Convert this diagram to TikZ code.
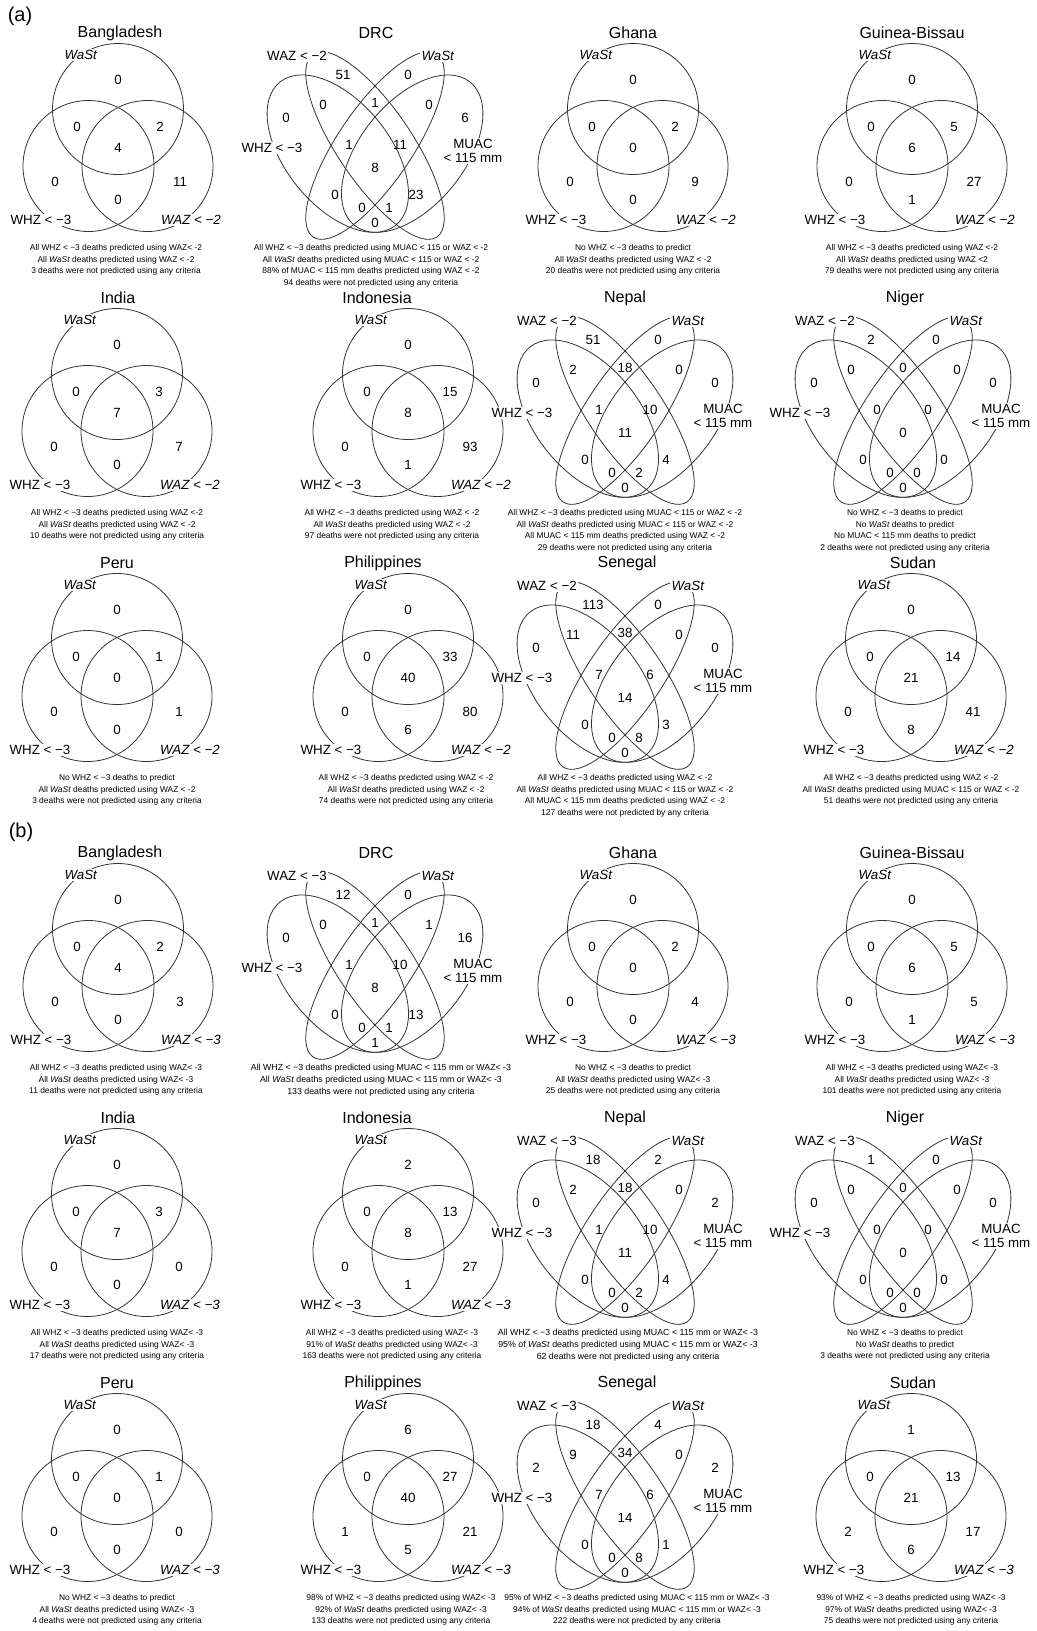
\documentclass[tikz,border=0pt]{standalone}
\usepackage{fontspec}
\setmainfont{Liberation Sans}
\usepackage{tikz}

% three-circle diagram: #1 centre, #2 counts (top, top-left, top-right, middle, left, right, bottom), #3 WAZ cut-off
\newcommand{\threevenn}[3]{%
  \begin{scope}[shift={#1}]
    \draw[vline] (0,-38) circle[radius=65.5];
    \draw[vline] (-29.5,19) circle[radius=65.5];
    \draw[vline] (29.5,19) circle[radius=65.5];
    \foreach \p [count=\i from 0] in {(0,-67),(-41,-20),(42,-20),(0,1),(-63,35),(62,35),(0,53)}{
      \pgfmathtruncatemacro\cnt{{#2}[\i]}
      \node[num] at \p {\cnt};
    }
    \node[setlabel] at (-37,-92) {\textit{WaSt}};
    \node[setlabel] at (-77,73) {WHZ < −3};
    \node[setlabel] at (73,73) {\textit{WAZ < −#3}};
  \end{scope}}

% four-ellipse diagram: #1 centre, #2 fifteen counts, #3 WAZ cut-off
\newcommand{\fourvenn}[3]{%
  \begin{scope}[shift={#1}]
    % outer sets: WHZ and MUAC (y axis points down, so the turns change sign)
    \begin{scope}[xscale=248, yscale=-276]
      \draw[vline, rotate around={-135:(-0.15,0.052)}] (-0.15,0.052) ellipse [x radius=0.35, y radius=0.2];
      \draw[vline, rotate around={-45:(0.15,0.052)}] (0.15,0.052) ellipse [x radius=0.35, y radius=0.2];
    \end{scope}
    % inner sets: WAZ and WaSt
    \draw[vline, rotate around={124.1:(0,-22.5)}] (0,-22.5) ellipse [x radius=110.5, y radius=37.3];
    \draw[vline, rotate around={55.9:(0,-22.5)}] (0,-22.5) ellipse [x radius=110.5, y radius=37.3];
    \foreach \p [count=\i from 0] in {(-32,-93),(33,-93),(-52,-63),(0,-65),(54,-63),(-89,-50),(90,-50),
        (-26,-23),(25,-23),(0,0),(-40,27),(41,27),(-13,40),(14,40),(0,55)}{
      \pgfmathtruncatemacro\cnt{{#2}[\i]}
      \node[num] at \p {\cnt};
    }
    \node[setlabel] at (-78,-112) {WAZ < −#3};
    \node[setlabel] at (63,-112) {\textit{WaSt}};
    \node[setlabel] at (-103,-20) {WHZ < −3};
    \node[muac] at (98,-17) {MUAC\\< 115 mm};
  \end{scope}}

\begin{document}
\begin{tikzpicture}[
  x=0.75pt, y=-0.75pt,
  vline/.style={line width=0.6pt, black!80},
  num/.style={font=\fontsize{10}{12}\selectfont, inner sep=0pt},
  setlabel/.style={font=\fontsize{10}{12}\selectfont, fill=white, inner sep=1pt},
  muac/.style={setlabel, align=center, font=\fontsize{10}{10}\selectfont},
  title/.style={font=\fontsize{12}{14}\selectfont},
  caption/.style={font=\fontsize{6.3}{8.8}\selectfont, align=center, anchor=north, inner sep=0pt},
  widecaption/.style={caption, font=\fontsize{6.6}{8.8}\selectfont},
  panel/.style={font=\fontsize{15}{18}\selectfont},
]
\useasboundingbox (0,0) rectangle (1036,1631);

% (a) row 1
\node[panel] (pa) at (20,16) {(a)};
\node[title] (tBGDa) at (120,33) {Bangladesh};
\threevenn{(118,147)}{0,0,2,4,0,11,0}{2}
\node[caption] (cBGDa) at (116,244) {All WHZ < −3 deaths predicted using WAZ< -2\\All \textit{WaSt} deaths predicted using WAZ < -2\\3 deaths were not predicted using any criteria};

\node[title] (tDRCa) at (376,33) {DRC};
\fourvenn{(375,168)}{51,0,0,1,0,0,6,1,11,8,0,23,0,1,0}{2}
\node[caption] (cDRCa) at (371,244) {All WHZ < −3 deaths predicted using MUAC < 115 or WAZ < -2\\All \textit{WaSt} deaths predicted using MUAC < 115 or WAZ < -2\\88\% of MUAC < 115 mm deaths predicted using WAZ < -2\\94 deaths were not predicted using any criteria};

\node[title] (tGHAa) at (633,33) {Ghana};
\threevenn{(633,147)}{0,0,2,0,0,9,0}{2}
\node[caption] (cGHAa) at (633,244) {No WHZ < −3 deaths to predict\\All \textit{WaSt} deaths predicted using WAZ < -2\\20 deaths were not predicted using any criteria};

\node[title] (tGNBa) at (912,33) {Guinea-Bissau};
\threevenn{(912,147)}{0,0,5,6,0,27,1}{2}
\node[caption] (cGNBa) at (912,244) {All WHZ < −3 deaths predicted using WAZ <-2\\All \textit{WaSt} deaths predicted using WAZ <2\\79 deaths were not predicted using any criteria};

% (a) row 2
\node[title] (tINDa) at (118,298) {India};
\threevenn{(117,412)}{0,0,3,7,0,7,0}{2}
\node[caption] (cINDa) at (117,509) {All WHZ < −3 deaths predicted using WAZ  <-2\\All \textit{WaSt} deaths predicted using WAZ < -2\\10 deaths were not predicted using any criteria};

\node[title] (tIDNa) at (377,298) {Indonesia};
\threevenn{(408,412)}{0,0,15,8,0,93,1}{2}
\node[caption] (cIDNa) at (392,509) {All WHZ < −3 deaths predicted using WAZ < -2\\All \textit{WaSt} deaths predicted using WAZ < -2\\97 deaths were not predicted using any criteria};

\node[title] (tNPLa) at (625,298) {Nepal};
\fourvenn{(625,433)}{51,0,2,18,0,0,0,1,10,11,0,4,0,2,0}{2}
\node[caption] (cNPLa) at (625,509) {All WHZ < −3 deaths predicted using  MUAC < 115 or WAZ < -2\\All \textit{WaSt} deaths predicted using  MUAC < 115 or  WAZ < -2\\All MUAC < 115 mm deaths predicted using WAZ < -2\\29 deaths were not predicted using any criteria};

\node[title] (tNERa) at (905,298) {Niger};
\fourvenn{(903,433)}{2,0,0,0,0,0,0,0,0,0,0,0,0,0,0}{2}
\node[caption] (cNERa) at (905,509) {No WHZ < −3 deaths to predict\\No \textit{WaSt} deaths to predict\\No MUAC < 115 mm deaths to predict\\2 deaths were not predicted using any criteria};

% (a) row 3
\node[title] (tPERa) at (117,563) {Peru};
\threevenn{(117,677)}{0,0,1,0,0,1,0}{2}
\node[caption] (cPERa) at (117,774) {No WHZ < −3 deaths to predict\\All \textit{WaSt} deaths predicted using WAZ  < -2\\3 deaths were not predicted using any criteria};

\node[title] (tPHLa) at (383,563) {Philippines};
\threevenn{(408,677)}{0,0,33,40,0,80,6}{2}
\node[caption] (cPHLa) at (406,774) {All WHZ < −3 deaths predicted using WAZ  < -2\\All \textit{WaSt} deaths predicted using WAZ  < -2\\74 deaths were not predicted using any criteria};

\node[title] (tSENa) at (627,563) {Senegal};
\fourvenn{(625,698)}{113,0,11,38,0,0,0,7,6,14,0,3,0,8,0}{2}
\node[caption] (cSENa) at (625,774) {All WHZ < −3 deaths predicted using WAZ  < -2\\All \textit{WaSt} deaths predicted using MUAC < 115 or WAZ  < -2\\All MUAC < 115 mm deaths predicted using WAZ < -2\\127 deaths were not predicted by any criteria};

\node[title] (tSDNa) at (913,563) {Sudan};
\threevenn{(911,677)}{0,0,14,21,0,41,8}{2}
\node[caption] (cSDNa) at (911,774) {All WHZ < −3 deaths predicted using  WAZ  < -2\\All \textit{WaSt} deaths predicted using  MUAC < 115 or WAZ  < -2\\51 deaths were not predicted using any criteria};

% (b) row 1
\node[panel] (pb) at (21,832) {(b)};
\node[title] (tBGDb) at (120,853) {Bangladesh};
\threevenn{(118,967)}{0,0,2,4,0,3,0}{3}
\node[caption] (cBGDb) at (116,1064) {All WHZ < −3 deaths predicted using WAZ< -3\\All \textit{WaSt} deaths predicted using WAZ< -3\\11 deaths were not predicted using any criteria};

\node[title] (tDRCb) at (376,853) {DRC};
\fourvenn{(375,988)}{12,0,0,1,1,0,16,1,10,8,0,13,0,1,1}{3}
\node[widecaption] (cDRCb) at (381,1064) {All WHZ < −3 deaths predicted using MUAC < 115 mm or WAZ< -3\\All \textit{WaSt} deaths predicted using MUAC < 115 mm or WAZ< -3\\133 deaths were not predicted using any criteria};

\node[title] (tGHAb) at (633,853) {Ghana};
\threevenn{(633,967)}{0,0,2,0,0,4,0}{3}
\node[caption] (cGHAb) at (633,1064) {No WHZ < −3 deaths to predict\\All \textit{WaSt} deaths predicted using WAZ< -3\\25 deaths were not predicted using any criteria};

\node[title] (tGNBb) at (912,853) {Guinea-Bissau};
\threevenn{(912,967)}{0,0,5,6,0,5,1}{3}
\node[caption] (cGNBb) at (912,1064) {All WHZ < −3 deaths predicted using WAZ< -3\\All \textit{WaSt} deaths predicted using WAZ< -3\\101 deaths were not predicted using any criteria};

% (b) row 2
\node[title] (tINDb) at (118,1118) {India};
\threevenn{(117,1232)}{0,0,3,7,0,0,0}{3}
\node[caption] (cINDb) at (117,1329) {All WHZ < −3 deaths predicted using WAZ< -3\\All \textit{WaSt} deaths predicted using WAZ< -3\\17 deaths were not predicted using any criteria};

\node[title] (tIDNb) at (377,1118) {Indonesia};
\threevenn{(408,1232)}{2,0,13,8,0,27,1}{3}
\node[caption] (cIDNb) at (392,1329) {All WHZ < −3 deaths predicted using WAZ< -3\\91\% of \textit{WaSt} deaths predicted using WAZ< -3\\163 deaths were not predicted using any criteria};

\node[title] (tNPLb) at (625,1118) {Nepal};
\fourvenn{(625,1253)}{18,2,2,18,0,0,2,1,10,11,0,4,0,2,0}{3}
\node[widecaption] (cNPLb) at (628,1329) {All WHZ < −3 deaths predicted using MUAC < 115 mm or WAZ< -3\\95\% of \textit{WaSt} deaths predicted using MUAC < 115 mm or WAZ< -3\\62 deaths were not predicted using any criteria};

\node[title] (tNERb) at (905,1118) {Niger};
\fourvenn{(903,1253)}{1,0,0,0,0,0,0,0,0,0,0,0,0,0,0}{3}
\node[caption] (cNERb) at (905,1329) {No WHZ < −3 deaths to predict\\No \textit{WaSt} deaths to predict\\3 deaths were not predicted using any criteria};

% (b) row 3
\node[title] (tPERb) at (117,1383) {Peru};
\threevenn{(117,1497)}{0,0,1,0,0,0,0}{3}
\node[caption] (cPERb) at (117,1594) {No WHZ < −3 deaths to predict\\All \textit{WaSt} deaths predicted using WAZ< -3\\4 deaths were not predicted using any criteria};

\node[title] (tPHLb) at (383,1383) {Philippines};
\threevenn{(408,1497)}{6,0,27,40,1,21,5}{3}
\node[caption] (cPHLb) at (401,1594) {98\% of WHZ < −3 deaths predicted using WAZ< -3\\92\% of \textit{WaSt} deaths predicted using WAZ< -3\\133 deaths were not predicted using any criteria};

\node[title] (tSENb) at (627,1383) {Senegal};
\fourvenn{(625,1518)}{18,4,9,34,0,2,2,7,6,14,0,1,0,8,0}{3}
\node[caption] (cSENb) at (637,1594) {95\% of WHZ < −3 deaths predicted using MUAC < 115 mm or WAZ< -3\\94\% of \textit{WaSt} deaths predicted using MUAC < 115 mm or WAZ< -3\\222 deaths were not predicted by any criteria};

\node[title] (tSDNb) at (913,1383) {Sudan};
\threevenn{(911,1497)}{1,0,13,21,2,17,6}{3}
\node[caption] (cSDNb) at (911,1594) {93\% of WHZ < −3 deaths predicted using WAZ< -3\\97\% of \textit{WaSt} deaths predicted using WAZ< -3\\75 deaths were not predicted using any criteria};

\end{tikzpicture}
\end{document}
